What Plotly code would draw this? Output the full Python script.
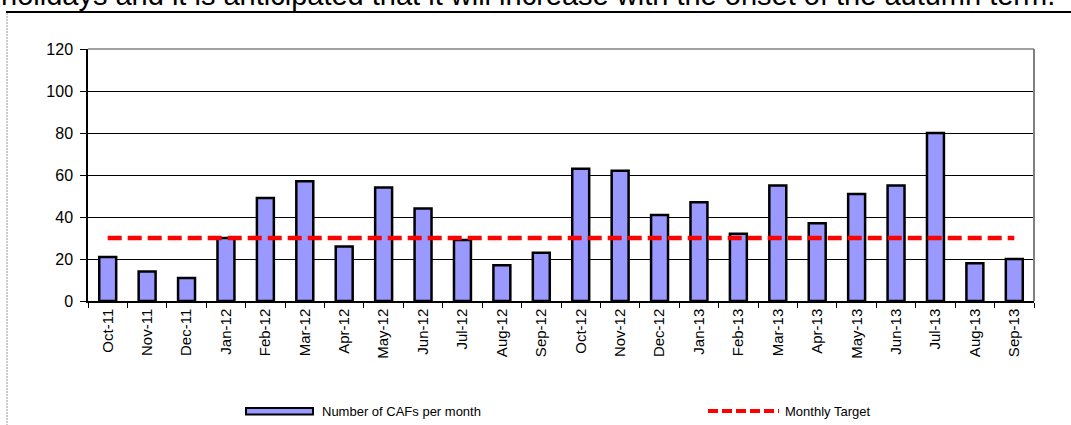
import plotly.graph_objects as go

months = ["Oct-11", "Nov-11", "Dec-11", "Jan-12", "Feb-12", "Mar-12", "Apr-12", "May-12",
          "Jun-12", "Jul-12", "Aug-12", "Sep-12", "Oct-12", "Nov-12", "Dec-12", "Jan-13",
          "Feb-13", "Mar-13", "Apr-13", "May-13", "Jun-13", "Jul-13", "Aug-13", "Sep-13"]
cafs = [21, 14, 11, 30, 49, 57, 26, 54, 44, 29, 17, 23,
        63, 62, 41, 47, 32, 55, 37, 51, 55, 80, 18, 20]
target = [30] * len(months)
y_ticks = [0, 20, 40, 60, 80, 100, 120]

W, H = 1071, 425
L, R, T, B = 88, 37, 49, 124
PW, PH = W - L - R, H - T - B

def px(x):
    return (x - L) / PW

def py(y):
    return (H - B - y) / PH

FONT = "Arial, Liberation Sans, sans-serif"

fig = go.Figure()
fig.add_trace(go.Bar(x=months, y=cafs, name="Number of CAFs per month",
                     marker=dict(color="#9999FF", line=dict(color="black", width=2.5)),
                     showlegend=False))
fig.add_trace(go.Scatter(x=months, y=target, mode="lines", name="Monthly Target",
                         line=dict(color="#FF0000", width=4.5, dash="14px,6px"),
                         showlegend=False))

shapes = [
    # plot border top/right (gray)
    dict(type="line", xref="paper", yref="paper", x0=0, x1=1, y0=1, y1=1,
         line=dict(color="#808080", width=1.5)),
    dict(type="line", xref="paper", yref="paper", x0=1, x1=1, y0=0, y1=1,
         line=dict(color="#808080", width=2)),
    # outer frame
    dict(type="line", xref="paper", yref="paper", x0=px(6), x1=px(1071), y0=py(12), y1=py(12),
         line=dict(color="black", width=2)),
    dict(type="line", xref="paper", yref="paper", x0=px(7), x1=px(7), y0=py(13), y1=py(425),
         line=dict(color="#999999", width=1, dash="2px,1px")),
    # legend swatches
    dict(type="rect", xref="paper", yref="paper", x0=px(246), x1=px(313), y0=py(414.5), y1=py(408),
         fillcolor="#9999FF", line=dict(color="black", width=2)),
    dict(type="line", xref="paper", yref="paper", x0=px(708), x1=px(779), y0=py(411), y1=py(411),
         line=dict(color="#FF0000", width=4, dash="10px,4px")),
]

annotations = [
    dict(text="holidays and it is anticipated that it will increase with the onset of the autumn term.",
         xref="paper", yref="paper", x=px(-1), y=py(13.5), xanchor="left", yanchor="bottom",
         showarrow=False, font=dict(family=FONT, size=29, color="black")),
    dict(text="Number of CAFs per month", xref="paper", yref="paper", x=px(320), y=py(411),
         xanchor="left", yanchor="middle", showarrow=False,
         font=dict(family=FONT, size=13, color="black")),
    dict(text="Monthly Target", xref="paper", yref="paper", x=px(783), y=py(411),
         xanchor="left", yanchor="middle", showarrow=False,
         font=dict(family=FONT, size=13, color="black")),
]

fig.update_layout(
    width=W, height=H,
    margin=dict(l=L, r=R, t=T, b=B, pad=0),
    paper_bgcolor="white", plot_bgcolor="white",
    bargap=0.57,
    font=dict(family=FONT, size=14, color="black"),
    shapes=shapes, annotations=annotations,
    showlegend=False,
)
fig.update_xaxes(type="category", tickangle=-90, tickson="boundaries",
                 ticks="outside", ticklen=5, tickcolor="black", tickwidth=1,
                 showline=True, linecolor="black", linewidth=1.5,
                 showgrid=False, tickfont=dict(family=FONT, size=15))
fig.update_yaxes(range=[0, 120], tickvals=y_ticks, ticks="outside", ticklen=6,
                 tickcolor="black", showline=True, linecolor="black", linewidth=1.5,
                 showgrid=True, gridcolor="black", gridwidth=1.2, zeroline=False,
                 ticklabelstandoff=4, tickfont=dict(family=FONT, size=16))

fig.write_html("out.html", config={"displayModeBar": False},
               post_script="document.body.style.margin='0';")
